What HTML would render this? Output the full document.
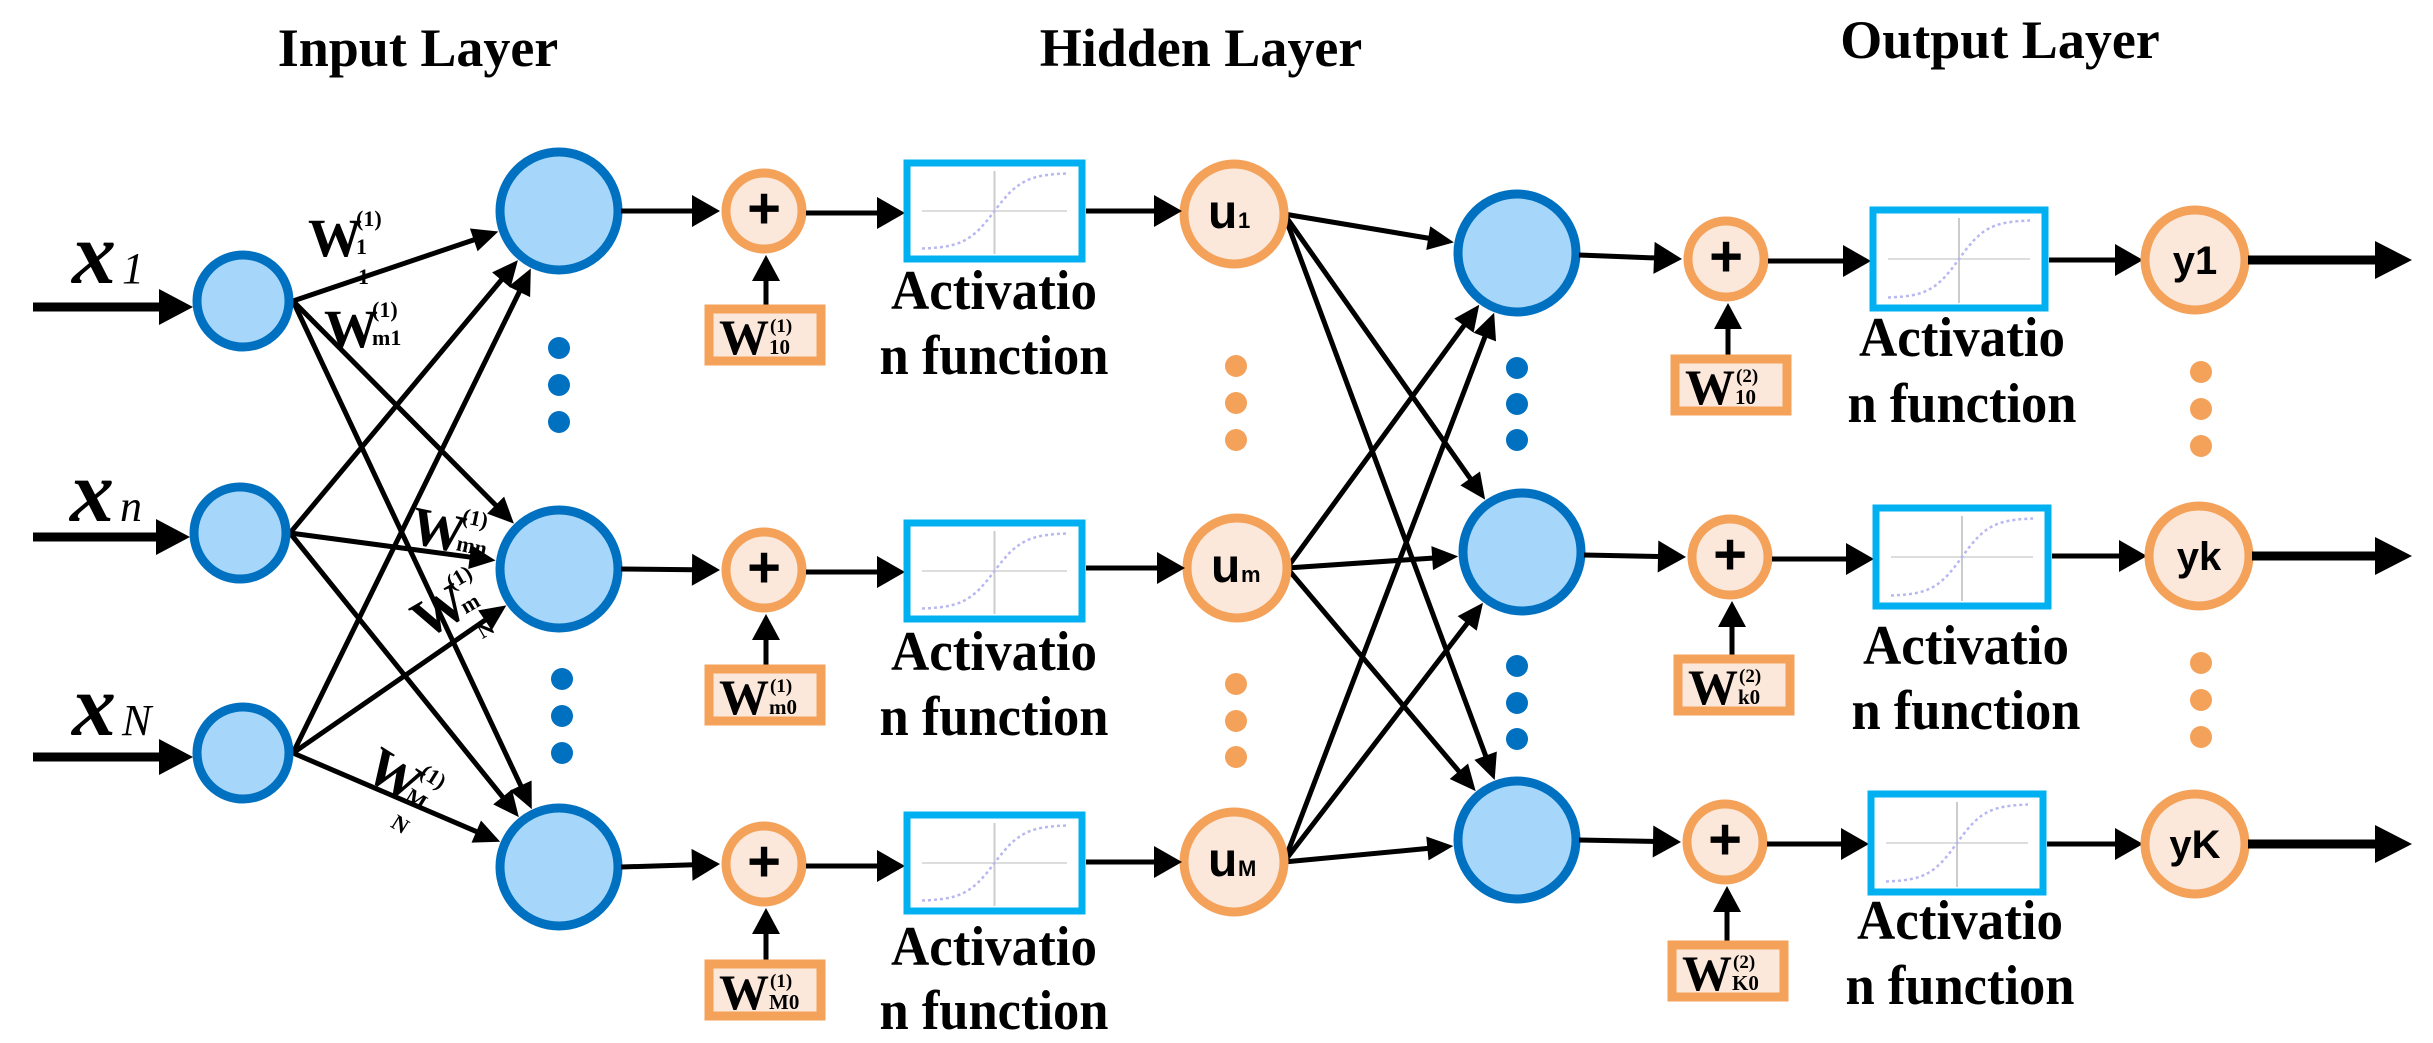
<!DOCTYPE html>
<html><head><meta charset="utf-8"><style>
html,body{margin:0;padding:0;background:#fff;}
svg{display:block;}
.t{font-family:"Liberation Serif",serif;font-weight:bold;fill:#000;}
.s{font-family:"Liberation Sans",sans-serif;font-weight:bold;fill:#000;}
</style></head><body>
<svg id="g" xmlns="http://www.w3.org/2000/svg" width="2433" height="1043" viewBox="0 0 2433 1043">
<text class="t" x="418" y="66" font-size="54" text-anchor="middle">Input Layer</text>
<text class="t" x="1201" y="66" font-size="54" text-anchor="middle">Hidden Layer</text>
<text class="t" x="2000" y="58" font-size="54" text-anchor="middle">Output Layer</text>
<g class="t" font-style="italic">
<text x="72" y="283" font-size="88">x</text><text x="122" y="283" font-size="44" font-weight="normal">1</text>
<text x="70" y="521" font-size="88">x</text><text x="120" y="521" font-size="44" font-weight="normal">n</text>
<text x="72" y="735" font-size="88">x</text><text x="122" y="735" font-size="44" font-weight="normal">N</text>
</g>
</svg>
<script>
var S=document.getElementById('g'),NS='http://www.w3.org/2000/svg';
function el(n,a,txt){var e=document.createElementNS(NS,n);for(var k in a)e.setAttribute(k,a[k]);if(txt!=null)e.textContent=txt;S.appendChild(e);return e;}
function arrow(x1,y1,x2,y2,w,hl,hw){var dx=x2-x1,dy=y2-y1,L=Math.hypot(dx,dy),ux=dx/L,uy=dy/L;
 var bx=x2-ux*hl,by=y2-uy*hl;el('line',{x1:x1,y1:y1,x2:bx+ux*2,y2:by+uy*2,stroke:'#000','stroke-width':w});
 el('polygon',{points:x2+','+y2+' '+(bx-uy*hw)+','+(by+ux*hw)+' '+(bx+uy*hw)+','+(by-ux*hw),fill:'#000'});}
var BF='#A6D7FB',BS='#0070C0',OF='#FBE8DA',OS='#F4A15A';
[[307,193],[537,190],[757,193]].forEach(function(a){arrow(33,a[0],a[1],a[0],9,34,18);});
var inp=[[243,301],[240,533],[243,753]],h1=[[559,211],[559,569],[559,867]],u=[[1234,214],[1237,568],[1234,862]],o=[[1517,253],[1522,552],[1517,840]];
function conn(src,rs,dst,rt){src.forEach(function(s){dst.forEach(function(d){var sx=s[0]+rs,sy=s[1];var dx=d[0]-sx,dy=d[1]-sy,L=Math.hypot(dx,dy);arrow(sx,sy,d[0]-dx/L*rt,d[1]-dy/L*rt,5,26,12);});});}
conn(inp,50,h1,64);conn(u,50,o,64);
function circ(c,r,f,s,w){el('circle',{cx:c[0],cy:c[1],r:r,fill:f,stroke:s,'stroke-width':w});}
inp.forEach(function(c){circ(c,46,BF,BS,9);});
h1.forEach(function(c){circ(c,59,BF,BS,9);});
o.forEach(function(c){circ(c,59,BF,BS,9);});
function dots(x,ys,col){ys.forEach(function(y){el('circle',{cx:x,cy:y,r:11,fill:col});});}
dots(559,[348,385,422],BS);dots(562,[679,716,753],BS);
dots(1517,[368,404,440],BS);dots(1517,[666,703,739],BS);
dots(1236,[366,403,440],OS);dots(1236,[684,721,757],OS);
dots(2201,[372,409,446],OS);dots(2201,[663,700,737],OS);
var us=['1','m','M'];
u.forEach(function(c,i){circ(c,50,OF,OS,9);el('text',{x:c[0]-26,y:c[1]+14,'class':'s','font-size':48},'u');el('text',{x:c[0]+4,y:c[1]+14,'class':'s','font-size':22,'font-weight':'normal'},us[i]);});
function row(hx,hy,sx,sy,wb,bx,by,bw,bh,ux,uy,wsup,wsub,tx,ty1,ty2){
 arrow(hx+62,hy,sx-44,sy,5,28,16);
 circ([sx,sy],38,OF,OS,9);
 el('text',{x:sx,y:sy+17,'class':'s','font-size':58,'text-anchor':'middle'},'+');
 arrow(sx+2,wb[1],sx+2,sy+44,5,26,14);
 el('rect',{x:wb[0],y:wb[1],width:112,height:52,fill:OF,stroke:OS,'stroke-width':9});
 el('text',{x:wb[0]+10,y:wb[1]+45,'class':'t','font-size':50},'W');
 el('text',{x:wb[0]+61,y:wb[1]+23,'class':'t','font-size':19,'font-weight':'normal'},wsup);
 el('text',{x:wb[0]+60,y:wb[1]+45,'class':'t','font-size':21,'font-weight':'normal'},wsub);
 arrow(sx+42,sy+2,bx-2,sy+2,5,28,16);
 el('rect',{x:bx,y:by,width:bw,height:bh,fill:'#fff',stroke:'#00B0F0','stroke-width':7});
 el('line',{x1:bx+15,y1:by+bh/2,x2:bx+bw-15,y2:by+bh/2,stroke:'#ddd','stroke-width':2});
 el('line',{x1:bx+bw/2,y1:by+8,x2:bx+bw/2,y2:by+bh-5,stroke:'#ccc','stroke-width':2});
 var p='';for(var k=0;k<=40;k++){var xx=bx+15+(bw-30)*k/40,v=1/(1+Math.exp(-(k-20)/4));p+=(k?'L':'M')+xx.toFixed(1)+','+(by+bh-10-(bh-20)*v).toFixed(1);}
 el('path',{d:p,fill:'none',stroke:'#b8b8f0','stroke-width':2.5,'stroke-dasharray':'3,3'});
 arrow(bx+bw+4,uy,ux-52,uy,5,28,16);
 el('text',{x:tx,y:ty1,'class':'t','font-size':56,'text-anchor':'middle',textLength:206,lengthAdjust:'spacingAndGlyphs'},'Activatio');
 el('text',{x:tx,y:ty2,'class':'t','font-size':56,'text-anchor':'middle',textLength:229,lengthAdjust:'spacingAndGlyphs'},'n function');
}
row(559,211,764,211,[709,309],907,163,175,96,1234,211,'(1)','10',994,309,374);
row(559,569,764,570,[709,669],907,523,175,96,1237,568,'(1)','m0',994,670,735);
row(559,867,764,864,[709,964],907,815,175,96,1234,862,'(1)','M0',994,965,1029);
row(1517,255,1726,259,[1675,359],1873,210,172,98,2195,260,'(2)','10',1962,356,422);
row(1522,555,1730,557,[1678,659],1876,508,172,98,2199,556,'(2)','k0',1966,664,729);
row(1517,840,1725,842,[1672,945],1871,794,172,98,2195,844,'(2)','K0',1960,939,1004);
var ys=[[2195,260,'y1'],[2199,556,'yk'],[2195,844,'yK']];
ys.forEach(function(c){circ([c[0],c[1]],50,OF,OS,9);el('text',{x:c[0],y:c[1]+14,'class':'s','font-size':40,'text-anchor':'middle'},c[2]);arrow(c[0]+53,c[1],2412,c[1],9,37,19);});
function wl(x,y,rot,sup,sub,sub2){var g=document.createElementNS(NS,'g');g.setAttribute('transform','translate('+x+','+y+') rotate('+rot+')');S.appendChild(g);
 function t(a,s){var e=document.createElementNS(NS,'text');for(var k in a)e.setAttribute(k,a[k]);e.setAttribute('class','t');e.textContent=s;g.appendChild(e);}
 t({x:0,y:0,'font-size':54},'W');t({x:48,y:-30,'font-size':22},sup);t({x:48,y:-2,'font-size':22},sub);if(sub2)t({x:50,y:28,'font-size':22},sub2);}
wl(308,256,0,'(1)','1','1');
wl(324,347,0,'(1)','m1');
wl(408,542,12,'(1)','mn');
wl(425,640,-30,'(1)','m','N');
wl(362,776,32,'(1)','M','N');
</script>
</body></html>
